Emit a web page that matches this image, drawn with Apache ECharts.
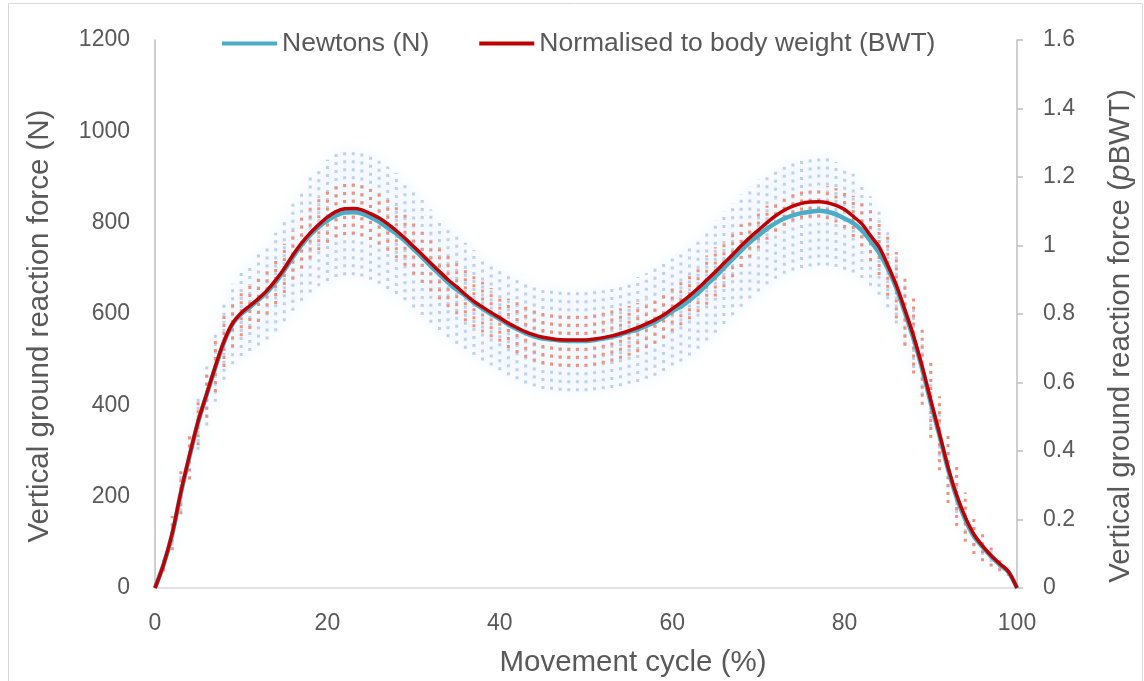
<!DOCTYPE html>
<html>
<head>
<meta charset="utf-8">
<script src="https://cdn.jsdelivr.net/npm/echarts@6/dist/echarts.min.js"></script>
<style>
  html, body { margin: 0; padding: 0; background: #ffffff; }
  #chart { width: 1144px; height: 681px; }
</style>
</head>
<body>
<div id="chart"></div>
<script>
// Movement cycle, 0-100 % in 1 % steps
const cycle = Array.from({ length: 101 }, (_, i) => i);

// Mean vertical ground reaction force in newtons
const forceN = [
  0, 52, 118, 208, 288, 363, 424, 483, 538, 578,
  600, 615, 631, 648, 670, 696, 725, 751, 773, 791,
  805, 816, 822, 823, 820, 812, 802, 789, 776, 760,
  742, 724, 705, 687, 669, 653, 640, 625, 612, 600,
  589, 577, 567, 558, 551, 546, 544, 542, 541, 541,
  541, 543, 546, 550, 555, 561, 566, 574, 582, 593,
  606, 616, 630, 646, 664, 682, 701, 720, 739, 757,
  772, 787, 799, 809, 816, 821, 824, 826, 824, 818,
  809, 799, 783, 760, 734, 700, 657, 603, 546, 480,
  405, 334, 260, 198, 150, 113, 90, 69, 51, 35,
  0
];

// Standard deviation of the force in newtons
const sdN = [
  0, 10, 25, 40, 50, 60, 68, 75, 82, 88,
  92, 96, 100, 104, 108, 112, 118, 122, 126, 130,
  133, 135, 137, 138, 138, 137, 136, 134, 132, 130,
  128, 126, 124, 122, 120, 118, 116, 115, 114, 113,
  112, 111, 110, 110, 110, 110, 110, 110, 110, 110,
  110, 110, 111, 112, 113, 114, 115, 116, 117, 118,
  119, 120, 121, 122, 122, 123, 123, 123, 123, 123,
  123, 122, 122, 121, 121, 120, 120, 120, 118, 115,
  112, 108, 104, 98, 92, 85, 78, 70, 64, 58,
  52, 46, 40, 34, 28, 22, 17, 12, 8, 4,
  0
];

// Mean force normalised to body weight (BWT)
const forceBWT = [
  0.000, 0.069, 0.160, 0.280, 0.387, 0.487, 0.567, 0.647, 0.720, 0.773,
  0.803, 0.824, 0.845, 0.869, 0.899, 0.933, 0.972, 1.007, 1.036, 1.061,
  1.083, 1.099, 1.107, 1.108, 1.104, 1.093, 1.080, 1.063, 1.043, 1.021,
  0.997, 0.973, 0.948, 0.924, 0.900, 0.879, 0.857, 0.837, 0.820, 0.804,
  0.789, 0.773, 0.760, 0.748, 0.739, 0.732, 0.728, 0.725, 0.724, 0.724,
  0.724, 0.727, 0.731, 0.736, 0.743, 0.751, 0.760, 0.771, 0.783, 0.797,
  0.815, 0.833, 0.853, 0.875, 0.899, 0.923, 0.948, 0.973, 0.999, 1.023,
  1.045, 1.067, 1.087, 1.103, 1.115, 1.123, 1.127, 1.128, 1.125, 1.117,
  1.105, 1.085, 1.063, 1.029, 0.996, 0.943, 0.884, 0.812, 0.736, 0.647,
  0.548, 0.452, 0.353, 0.271, 0.207, 0.157, 0.123, 0.095, 0.071, 0.048,
  0.000
];

// Standard deviation of the normalised force (BWT)
const sdBWT = [
  0.000, 0.020, 0.050, 0.065, 0.070, 0.070, 0.070, 0.075, 0.075, 0.070,
  0.068, 0.068, 0.068, 0.070, 0.070, 0.072, 0.072, 0.074, 0.074, 0.075,
  0.075, 0.076, 0.076, 0.076, 0.077, 0.077, 0.078, 0.078, 0.080, 0.080,
  0.082, 0.082, 0.082, 0.082, 0.080, 0.080, 0.078, 0.076, 0.074, 0.072,
  0.070, 0.072, 0.074, 0.076, 0.078, 0.078, 0.078, 0.078, 0.078, 0.078,
  0.078, 0.077, 0.076, 0.075, 0.074, 0.073, 0.072, 0.071, 0.070, 0.068,
  0.066, 0.066, 0.068, 0.070, 0.072, 0.072, 0.070, 0.066, 0.062, 0.058,
  0.054, 0.050, 0.047, 0.045, 0.044, 0.044, 0.045, 0.046, 0.048, 0.050,
  0.054, 0.060, 0.066, 0.074, 0.082, 0.090, 0.097, 0.105, 0.110, 0.112,
  0.110, 0.108, 0.105, 0.090, 0.072, 0.058, 0.045, 0.032, 0.022, 0.012,
  0.000
];

const seriesNames = ['Newtons (N)', 'Normalised to body weight (BWT)'];
const xTicks = [0, 20, 40, 60, 80, 100];

const FONT = "'Liberation Sans', Arial, sans-serif";
const TEXT = '#595959';
const BLUE = '#4bacc6';
const RED = '#c00000';

const lineN = cycle.map((c, i) => [c, forceN[i]]);
const lineB = cycle.map((c, i) => [c, forceBWT[i]]);
const barsN = cycle.map((c, i) => [c, forceN[i], sdN[i]]);
const barsB = cycle.map((c, i) => [c, forceBWT[i], sdBWT[i]]);

// Dotted vertical ±SD bar at each cycle point
function errorBar(stroke, glow, blur) {
  return function (params, api) {
    const x = api.value(0), m = api.value(1), s = api.value(2);
    if (!s) return null;
    const lo = api.coord([x, m - s]);
    const hi = api.coord([x, m + s]);
    return {
      type: 'line',
      shape: { x1: lo[0], y1: lo[1], x2: hi[0], y2: hi[1] },
      style: {
        stroke: stroke,
        lineWidth: 3,
        lineDash: [3, 5],
        shadowBlur: blur,
        shadowColor: glow
      }
    };
  };
}

const chart = echarts.init(document.getElementById('chart'), null, { renderer: 'canvas' });

chart.setOption({
  animation: false,
  backgroundColor: '#ffffff',
  textStyle: { fontFamily: FONT, color: TEXT },
  grid: { left: 155, right: 127, top: 40, bottom: 93, containLabel: false },
  legend: {
    data: [
      { name: seriesNames[0], icon: 'rect', itemStyle: { color: BLUE } },
      { name: seriesNames[1], icon: 'rect', itemStyle: { color: RED } }
    ],
    top: 25,
    left: 217,
    itemWidth: 55,
    itemHeight: 4,
    itemGap: 50,
    textStyle: { fontFamily: FONT, fontSize: 26.5, color: TEXT }
  },
  xAxis: {
    type: 'value',
    min: 0, max: 100, interval: 20,
    axisLine: { show: true, lineStyle: { color: '#d9d9d9', width: 1.5 } },
    axisTick: { show: false },
    splitLine: { show: false },
    axisLabel: {
      fontFamily: FONT, fontSize: 23, color: TEXT, margin: 24,
      formatter: v => (xTicks.includes(v) ? String(v) : '')
    }
  },
  yAxis: [
    {
      type: 'value',
      min: 0, max: 1200, interval: 200,
      axisLine: { show: true, lineStyle: { color: '#bfbfbf', width: 1.5 } },
      axisTick: { show: false },
      splitLine: { show: false },
      axisLabel: { fontFamily: FONT, fontSize: 23, color: TEXT, margin: 25, formatter: v => String(v) }
    },
    {
      type: 'value',
      min: 0, max: 1.6, interval: 0.2,
      position: 'right',
      axisLine: { show: true, lineStyle: { color: '#bfbfbf', width: 1.5 } },
      axisTick: { show: true, length: 6, inside: false, lineStyle: { color: '#bfbfbf', width: 1.5 } },
      splitLine: { show: false },
      axisLabel: {
        fontFamily: FONT, fontSize: 23, color: TEXT, margin: 26,
        formatter: v => String(Math.round(v * 10) / 10)
      }
    }
  ],
  graphic: [
    {
      type: 'rect',
      shape: { x: 8.5, y: 3.5, width: 1134, height: 700 },
      style: { fill: 'none', stroke: '#d9d9d9', lineWidth: 1 },
      silent: true
    },
    {
      type: 'text',
      x: 40, y: 326,
      rotation: Math.PI / 2,
      style: {
        text: 'Vertical ground reaction force (N)',
        fontFamily: FONT, fontSize: 29.5, fill: TEXT,
        align: 'center', verticalAlign: 'middle'
      }
    },
    {
      type: 'text',
      x: 1121, y: 336,
      rotation: Math.PI / 2,
      style: {
        text: 'Vertical ground reaction force ({i|p}BWT)',
        fontFamily: FONT, fontSize: 29.5, fill: TEXT,
        align: 'center', verticalAlign: 'middle',
        rich: { i: { fontFamily: FONT, fontSize: 29.5, fontStyle: 'italic', fill: TEXT } }
      }
    },
    {
      type: 'text',
      x: 633, y: 663,
      style: {
        text: 'Movement cycle (%)',
        fontFamily: FONT, fontSize: 29.5, fill: TEXT,
        align: 'center', verticalAlign: 'middle'
      }
    }
  ],
  series: [
    {
      name: 'sdN',
      type: 'custom',
      yAxisIndex: 0,
      z: 1,
      silent: true,
      renderItem: errorBar('#c0d1ea', 'rgba(170,198,236,1)', 15),
      data: barsN
    },
    {
      name: 'sdBWT',
      type: 'custom',
      yAxisIndex: 1,
      z: 2,
      silent: true,
      renderItem: errorBar('#ef917c', 'rgba(0,0,0,0)', 0),
      data: barsB
    },
    {
      name: seriesNames[0],
      type: 'line',
      yAxisIndex: 0,
      z: 3,
      symbol: 'none',
      smooth: 0.3,
      lineStyle: { color: BLUE, width: 4.5 },
      itemStyle: { color: BLUE },
      data: lineN
    },
    {
      name: seriesNames[1],
      type: 'line',
      yAxisIndex: 1,
      z: 4,
      symbol: 'none',
      smooth: 0.3,
      lineStyle: { color: RED, width: 3.5 },
      itemStyle: { color: RED },
      data: lineB
    }
  ]
});
</script>
</body>
</html>
